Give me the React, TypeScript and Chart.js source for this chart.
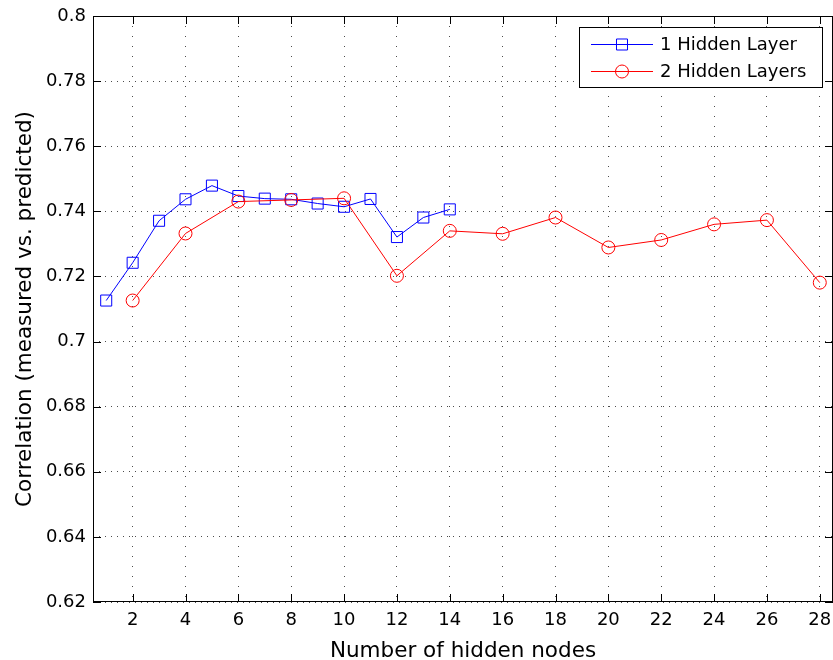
import React, { useEffect, useRef } from 'react';
import { Chart, registerables } from 'chart.js';

Chart.register(...registerables);

// ---- data ----
const oneLayerNodes = [1, 2, 3, 4, 5, 6, 7, 8, 9, 10, 11, 12, 13, 14];
const oneLayerCorr = [0.7126, 0.7242, 0.7371, 0.7437, 0.7479, 0.7447, 0.7439, 0.7437, 0.7424, 0.7414, 0.7438, 0.7321, 0.7381, 0.7406];
const twoLayerNodes = [2, 4, 6, 8, 10, 12, 14, 16, 18, 20, 22, 24, 26, 28];
const twoLayerCorr = [0.7126, 0.7332, 0.7430, 0.7435, 0.7440, 0.7202, 0.7340, 0.7331, 0.7381, 0.7289, 0.7312, 0.7360, 0.7373, 0.7181];
const xTicks = [2, 4, 6, 8, 10, 12, 14, 16, 18, 20, 22, 24, 26, 28];
const yTicks = [0.62, 0.64, 0.66, 0.68, 0.7, 0.72, 0.74, 0.76, 0.78, 0.8];
const seriesLabels = ['1 Hidden Layer', '2 Hidden Layers'];
const xTitle = 'Number of hidden nodes';
const yTitle = 'Correlation (measured vs. predicted)';

const FONT = 'DejaVu Sans';

const framePlugin = {
  id: 'matlabFrame',
  afterDraw(chart: any) {
    const { ctx, chartArea } = chart;
    const { left, right, top, bottom } = chartArea;
    const xs = chart.scales.x;
    const ys = chart.scales.y;
    ctx.save();
    ctx.strokeStyle = '#000';
    ctx.lineWidth = 1;
    ctx.setLineDash([]);
    // inward tick marks
    const tl = 8;
    ctx.beginPath();
    xs.ticks.forEach((t: any) => {
      const px = Math.round(xs.getPixelForValue(t.value)) + 0.5;
      ctx.moveTo(px, bottom);
      ctx.lineTo(px, bottom - tl);
      ctx.moveTo(px, top);
      ctx.lineTo(px, top + tl);
    });
    ys.ticks.forEach((t: any) => {
      const py = Math.round(ys.getPixelForValue(t.value)) + 0.5;
      ctx.moveTo(left, py);
      ctx.lineTo(left + tl, py);
      ctx.moveTo(right, py);
      ctx.lineTo(right - tl, py);
    });
    ctx.stroke();
    // axes box
    ctx.strokeRect(Math.round(left) + 0.5, Math.round(top) + 0.5, Math.round(right - left) - 1, Math.round(bottom - top) - 1);

    // legend
    const bx = 579, by = 27, bw = 243, bh = 60;
    ctx.fillStyle = '#fff';
    ctx.fillRect(bx, by, bw, bh);
    ctx.strokeRect(bx + 0.5, by + 0.5, bw, bh);
    const rows = [44, 71];
    chart.data.datasets.forEach((ds: any, i: number) => {
      const y = rows[i] + 0.5;
      ctx.strokeStyle = ds.borderColor;
      ctx.lineWidth = 1;
      ctx.beginPath();
      ctx.moveTo(591, y);
      ctx.lineTo(653, y);
      ctx.stroke();
      ctx.beginPath();
      if (ds.pointStyle === 'rect') {
        const s = ds.pointRadius * Math.SQRT1_2;
        ctx.rect(622 - s, y - s, 2 * s, 2 * s);
      } else {
        ctx.arc(622, y, ds.pointRadius, 0, Math.PI * 2);
      }
      ctx.stroke();
      ctx.fillStyle = '#000';
      ctx.font = `18px "${FONT}"`;
      ctx.textAlign = 'left';
      ctx.textBaseline = 'middle';
      ctx.fillText(ds.label, 660, rows[i] + 1);
    });
    ctx.restore();
  },
};

export default function App() {
  const ref = useRef<HTMLCanvasElement | null>(null);
  useEffect(() => {
    if (!ref.current) return;
    const chart = new Chart(ref.current, {
      type: 'line',
      data: {
        datasets: [
          {
            label: seriesLabels[0],
            data: oneLayerNodes.map((x, i) => ({ x, y: oneLayerCorr[i] })),
            borderColor: '#0000ff',
            backgroundColor: 'rgba(0,0,0,0)',
            borderWidth: 1,
            pointStyle: 'rect',
            pointRadius: 7.8,
            pointBorderWidth: 1,
            pointBackgroundColor: 'rgba(0,0,0,0)',
            pointBorderColor: '#0000ff',
            tension: 0,
            order: 1,
          },
          {
            label: seriesLabels[1],
            data: twoLayerNodes.map((x, i) => ({ x, y: twoLayerCorr[i] })),
            borderColor: '#ff0000',
            backgroundColor: 'rgba(0,0,0,0)',
            borderWidth: 1,
            pointStyle: 'circle',
            pointRadius: 6.5,
            pointBorderWidth: 1,
            pointBackgroundColor: 'rgba(0,0,0,0)',
            pointBorderColor: '#ff0000',
            tension: 0,
            order: 0,
          },
        ],
      },
      options: {
        responsive: false,
        animation: false,
        devicePixelRatio: 1,
        layout: { autoPadding: false, padding: { top: 16, left: 0, right: 0, bottom: 0 } },
        plugins: { legend: { display: false }, tooltip: { enabled: false } },
        scales: {
          x: {
            type: 'linear',
            min: 0.5,
            max: 28.5,
            afterBuildTicks: (scale: any) => {
              scale.ticks = xTicks.map((v) => ({ value: v }));
            },
            afterFit: (scale: any) => {
              scale.height = 58;
              scale.paddingLeft = 0;
              scale.paddingRight = 0;
            },
            ticks: {
              autoSkip: false,
              maxRotation: 0,
              padding: 8,
              color: '#000',
              font: { family: FONT, size: 18 },
              callback: (v: any) => String(v),
            },
            grid: { drawTicks: false, color: 'rgba(0,0,0,0.7)', lineWidth: 1 },
            border: { display: false, dash: [1, 9] },
            title: {
              display: true,
              text: xTitle,
              color: '#000',
              font: { family: FONT, size: 21.5 },
              padding: { top: 0, bottom: -4 },
            },
          },
          y: {
            type: 'linear',
            min: 0.62,
            max: 0.8,
            afterBuildTicks: (scale: any) => {
              scale.ticks = yTicks.map((v) => ({ value: v }));
            },
            afterFit: (scale: any) => {
              scale.width = 93;
              scale.paddingTop = 0;
              scale.paddingBottom = 0;
            },
            ticks: {
              padding: 7,
              color: '#000',
              font: { family: FONT, size: 18 },
              callback: (v: any) => String(Number(Number(v).toFixed(2))),
            },
            grid: { drawTicks: false, color: 'rgba(0,0,0,0.7)', lineWidth: 1 },
            border: { display: false, dash: [1, 5] },
            title: {
              display: true,
              text: yTitle,
              color: '#000',
              font: { family: FONT, size: 21.5 },
              padding: { top: 13, bottom: 0 },
            },
          },
        },
      },
      plugins: [framePlugin],
    } as any);
    return () => chart.destroy();
  }, []);

  return (
    <div style={{ position: 'absolute', left: 0, top: 0, width: 833, height: 660, background: '#fff' }}>
      <canvas ref={ref} width={833} height={660} style={{ display: 'block' }} />
    </div>
  );
}
